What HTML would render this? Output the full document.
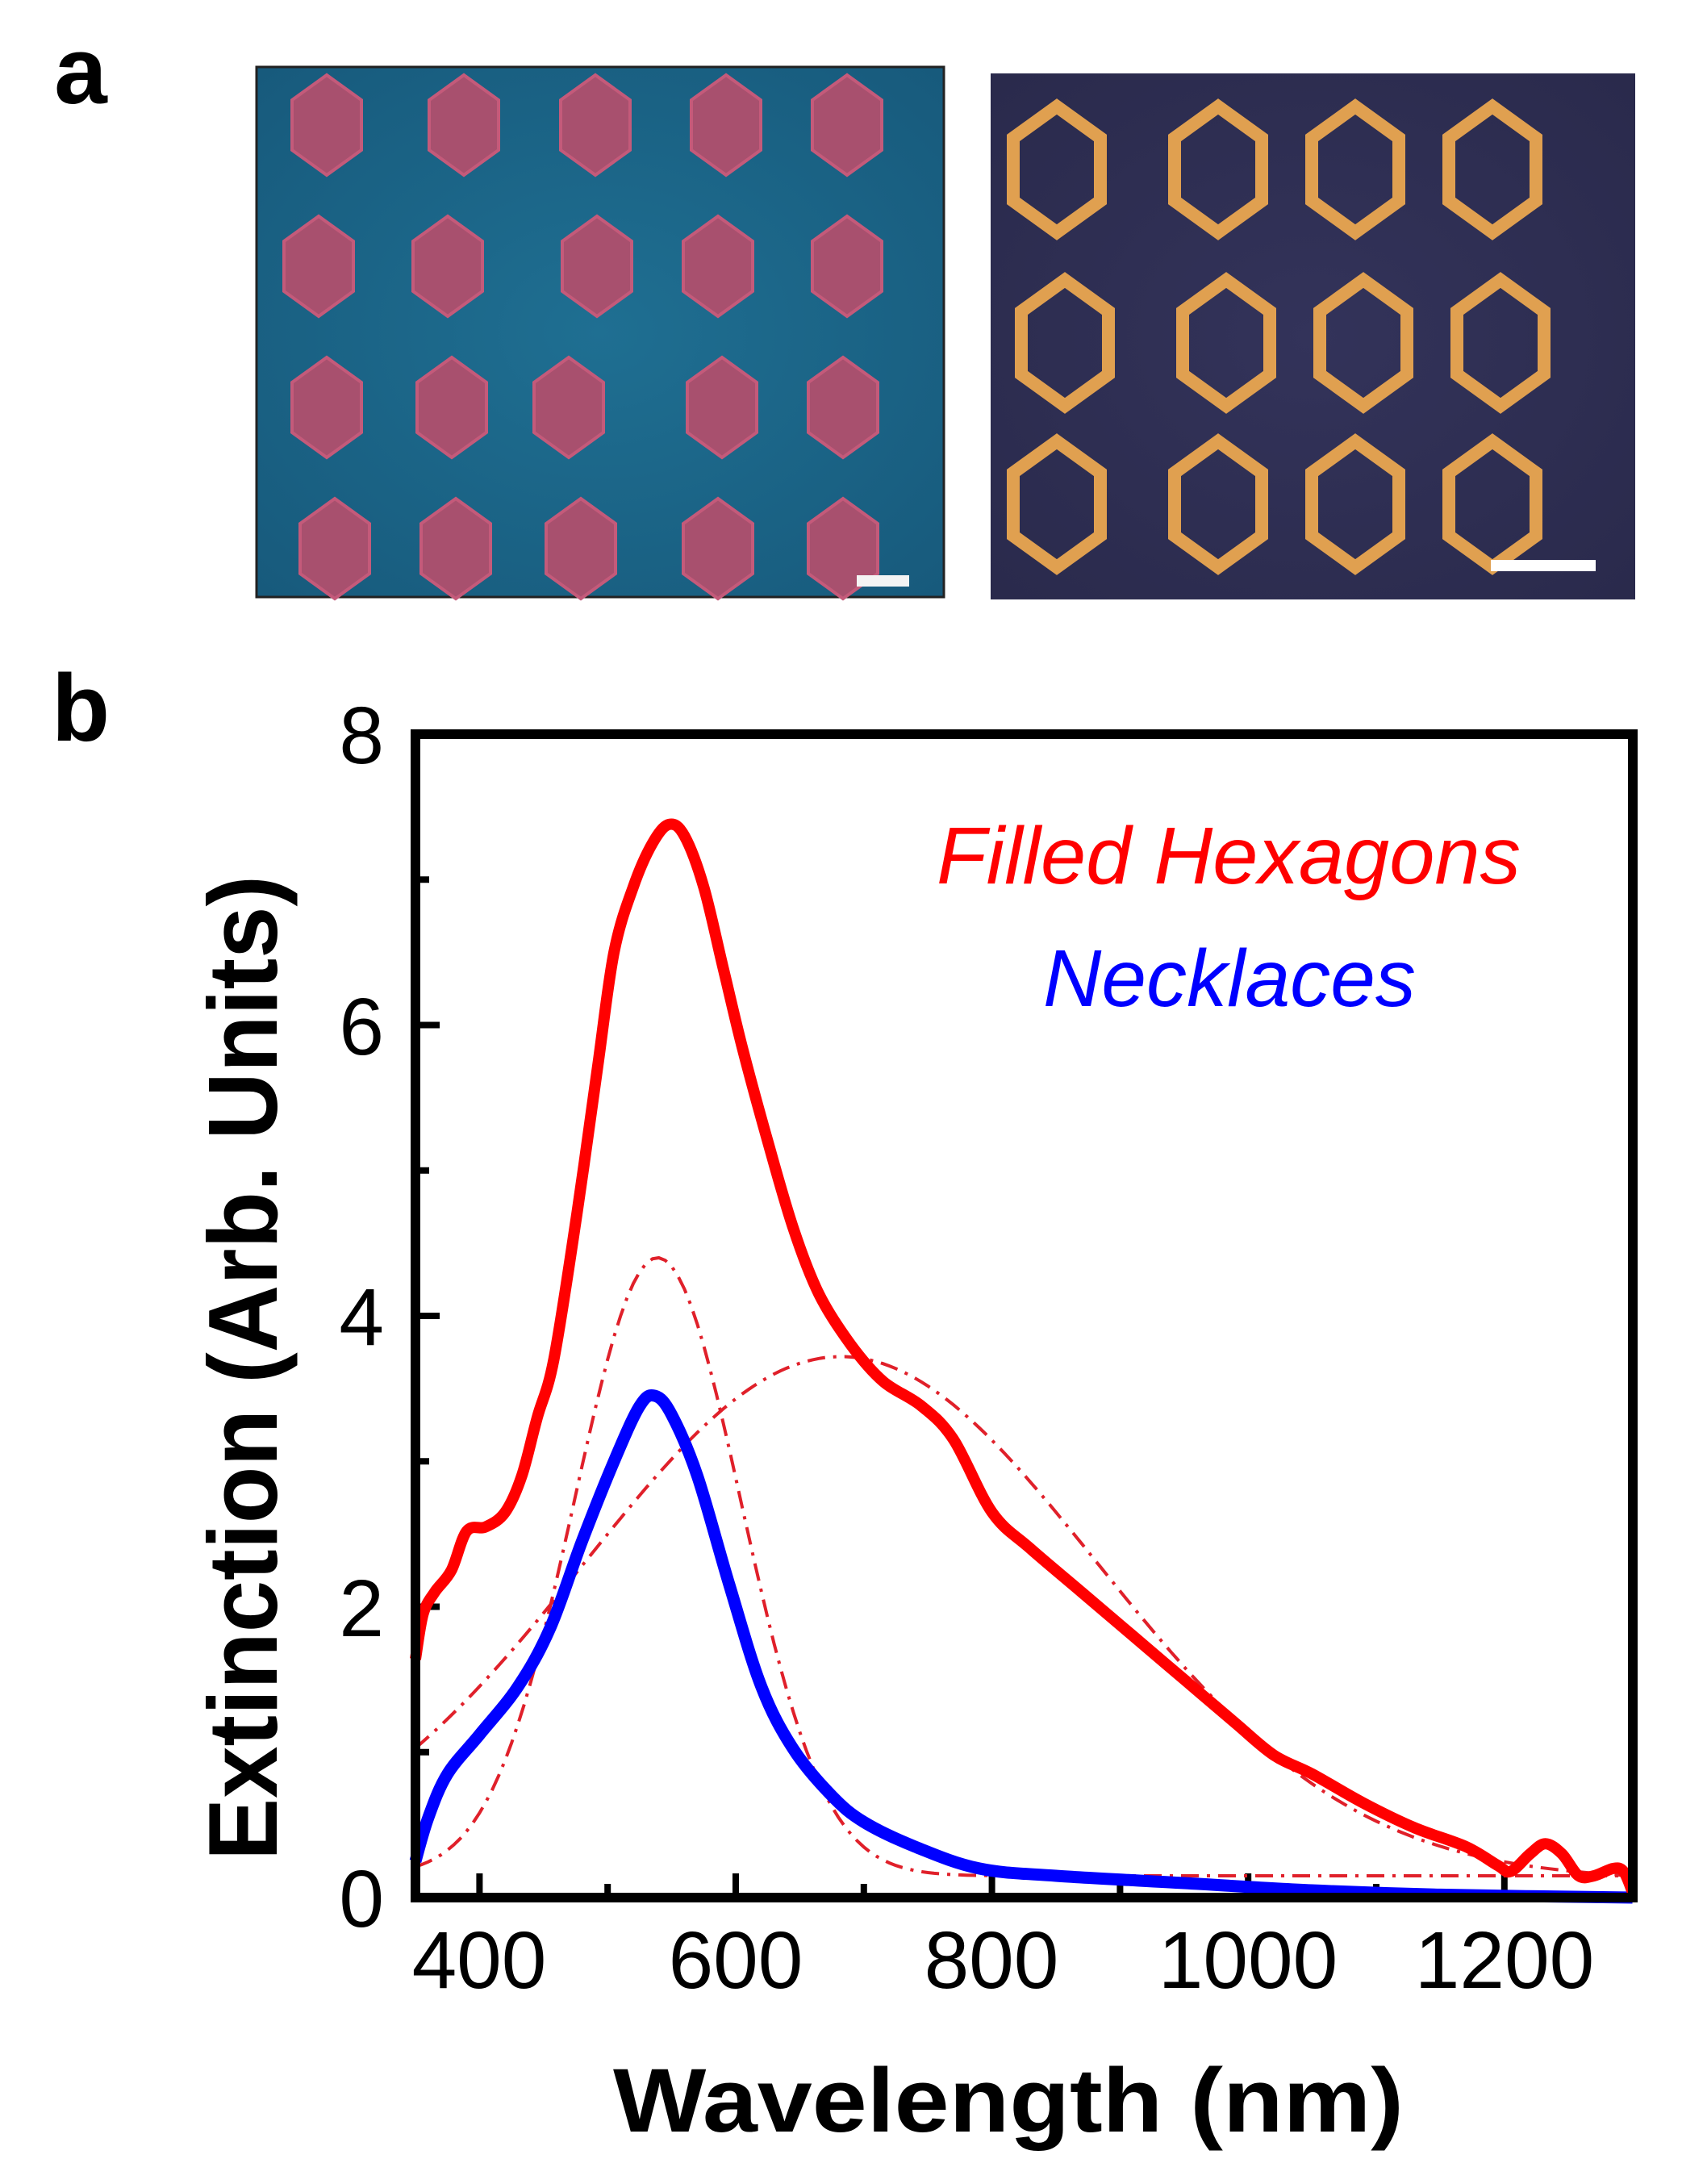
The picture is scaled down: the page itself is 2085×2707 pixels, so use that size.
<!DOCTYPE html>
<html><head><meta charset="utf-8"><style>
html,body{margin:0;padding:0;background:#fff;}
svg{display:block;}
</style></head><body>
<svg id="s" width="2085" height="2707" viewBox="0 0 2085 2707" xmlns="http://www.w3.org/2000/svg" font-family="Liberation Sans, Arial, sans-serif">
<defs>
<radialGradient id="gL" cx="50%" cy="50%" r="70%"><stop offset="0" stop-color="#1f6f92"/><stop offset="1" stop-color="#175a7c"/></radialGradient>
<radialGradient id="gR" cx="50%" cy="50%" r="70%"><stop offset="0" stop-color="#33335a"/><stop offset="1" stop-color="#2a2a4c"/></radialGradient>
</defs>
<text x="100" y="128" font-size="118" font-weight="bold" text-anchor="middle">a</text>
<text x="100" y="918" font-size="118" font-weight="bold" text-anchor="middle">b</text>
<rect x="318" y="83" width="852" height="657" fill="url(#gL)" stroke="#222" stroke-width="3"/>
<g id="hexL"></g>
<rect x="1062" y="713" width="65" height="14" fill="#f4f4f4"/>
<rect x="1228" y="91" width="799" height="652" fill="url(#gR)"/>
<g id="hexR"></g>
<rect x="1848" y="694" width="130" height="14" fill="#fff"/>

<g id="ticks" stroke="#000" stroke-width="8"></g>
<g id="curves" fill="none"></g>
<rect x="515" y="910" width="1509" height="1442" fill="none" stroke="#000" stroke-width="12"/>

<g font-size="100" fill="#000" text-anchor="end">
<text x="476" y="2388">0</text><text x="476" y="2028">2</text><text x="476" y="1667">4</text><text x="476" y="1307">6</text><text x="476" y="946">8</text>
</g>
<g font-size="100" fill="#000" text-anchor="middle">
<text x="594" y="2464">400</text><text x="912" y="2464">600</text><text x="1229" y="2464">800</text><text x="1547" y="2464">1000</text><text x="1865" y="2464">1200</text>
</g>
<text x="760" y="2642" font-size="112" font-weight="bold" textLength="980" lengthAdjust="spacingAndGlyphs">Wavelength (nm)</text>
<text transform="translate(343,2306) rotate(-90)" font-size="122" font-weight="bold" textLength="1221" lengthAdjust="spacingAndGlyphs">Extinction (Arb. Units)</text>
<text x="1161" y="1095" font-size="100" font-style="italic" fill="#f00" textLength="724" lengthAdjust="spacingAndGlyphs">Filled Hexagons</text>
<text x="1293" y="1247" font-size="100" font-style="italic" fill="#00f" textLength="462" lengthAdjust="spacingAndGlyphs">Necklaces</text>
</svg>
<script>
var NS="http://www.w3.org/2000/svg";
function X(n){return 515+(n-350)*1.588;}
function Y(v){return 2352-v*180.25;}
function el(p,tag,a){var e=document.createElementNS(NS,tag);for(var k in a)e.setAttribute(k,a[k]);p.appendChild(e);return e;}
// ticks
var t=document.getElementById('ticks');
for(var n=400;n<=1300;n+=100){var L=(n%200==0)?30:17;el(t,'line',{x1:X(n),x2:X(n),y1:2352,y2:2352-L});}
for(var v=1;v<8;v++){var L=(v%2==0)?30:17;el(t,'line',{x1:515,x2:515+L,y1:Y(v),y2:Y(v)});}
function smooth(pts){var d='M'+pts[0][0]+','+pts[0][1];
 for(var i=0;i<pts.length-1;i++){var p0=pts[i-1]||pts[i],p1=pts[i],p2=pts[i+1],p3=pts[i+2]||p2;
  var c1=[p1[0]+(p2[0]-p0[0])/6,p1[1]+(p2[1]-p0[1])/6],c2=[p2[0]-(p3[0]-p1[0])/6,p2[1]-(p3[1]-p1[1])/6];
  d+='C'+c1[0].toFixed(1)+','+c1[1].toFixed(1)+' '+c2[0].toFixed(1)+','+c2[1].toFixed(1)+' '+p2[0].toFixed(1)+','+p2[1].toFixed(1);}
 return d;}
function conv(a){return a.map(function(p){return [X(p[0]),Y(p[1])];});}
var c=document.getElementById('curves');
// gaussians
var g1=[],g2=[];
for(var n=350;n<=1300;n+=5){g1.push([X(n),Y(0.15+4.25*Math.exp(-Math.pow(n-539,2)/(2*65*65)))]);g2.push([X(n),Y(0.12+3.6*Math.exp(-Math.pow(n-682,2)/(2*200*200)))]);}
function poly(a){return 'M'+a.map(function(p){return p[0].toFixed(1)+','+p[1].toFixed(1);}).join('L');}
el(c,'path',{d:poly(g1),stroke:'#e0202a','stroke-width':4,'stroke-dasharray':'22 10 4 10'});
el(c,'path',{d:poly(g2),stroke:'#e0202a','stroke-width':4,'stroke-dasharray':'22 10 4 10'});
var blue=[[350,0.25],[360,0.55],[375,0.85],[400,1.12],[430,1.45],[455,1.85],[480,2.45],[505,3.0],[525,3.38],[537,3.45],[550,3.32],[570,2.9],[595,2.15],[620,1.45],[645,1.02],[675,0.7],[700,0.52],[740,0.35],[790,0.2],[850,0.15],[950,0.1],[1050,0.05],[1150,0.02],[1300,0.0]];
var red=[[350,1.64],[356,1.95],[365,2.1],[378,2.25],[390,2.52],[405,2.55],[420,2.65],[433,2.9],[445,3.3],[458,3.7],[476,4.7],[492,5.7],[505,6.5],[520,6.95],[535,7.25],[548,7.38],[560,7.3],[575,6.95],[590,6.4],[605,5.85],[625,5.2],[645,4.6],[665,4.15],[690,3.8],[715,3.55],[745,3.38],[770,3.15],[800,2.65],[830,2.4],[870,2.1],[910,1.8],[950,1.5],[990,1.2],[1020,0.98],[1050,0.85],[1090,0.65],[1130,0.48],[1170,0.35],[1195,0.22],[1205,0.18],[1220,0.3],[1232,0.37],[1245,0.3],[1258,0.15],[1270,0.15],[1285,0.2],[1293,0.18],[1300,0.04]];
el(c,'path',{d:smooth(conv(blue)),stroke:'#0000ff','stroke-width':15,'stroke-linejoin':'round'});
el(c,'path',{d:smooth(conv(red)),stroke:'#ff0000','stroke-width':14,'stroke-linejoin':'round'});
// hexagons
function hex(p,cx,cy,r,fill,stroke,sw){var pts=[];for(var i=0;i<6;i++){var a=Math.PI/6+i*Math.PI/3;pts.push((cx+r*0.8*Math.cos(a)).toFixed(1)+','+(cy+r*Math.sin(a)).toFixed(1));}
 el(p,'polygon',{points:pts.join(' '),fill:fill,stroke:stroke,'stroke-width':sw});}
var hl=document.getElementById('hexL');
var xsL=[[405,575,738,900,1050],[395,555,740,890,1050],[405,560,705,895,1045],[415,565,720,890,1045]],ysL=[155,330,505,680];
for(var r=0;r<4;r++)for(var k=0;k<5;k++)hex(hl,xsL[r][k],ysL[r],62,'#a8506e','#c45a7a',4);
var hr=document.getElementById('hexR');
var xsR=[1310,1510,1680,1850],ysR=[210,425,625];
for(var r=0;r<3;r++)for(var k=0;k<4;k++)hex(hr,xsR[k]+(r==1?10:0),ysR[r],78,'none','#e0a050',16);
</script>
</body></html>
